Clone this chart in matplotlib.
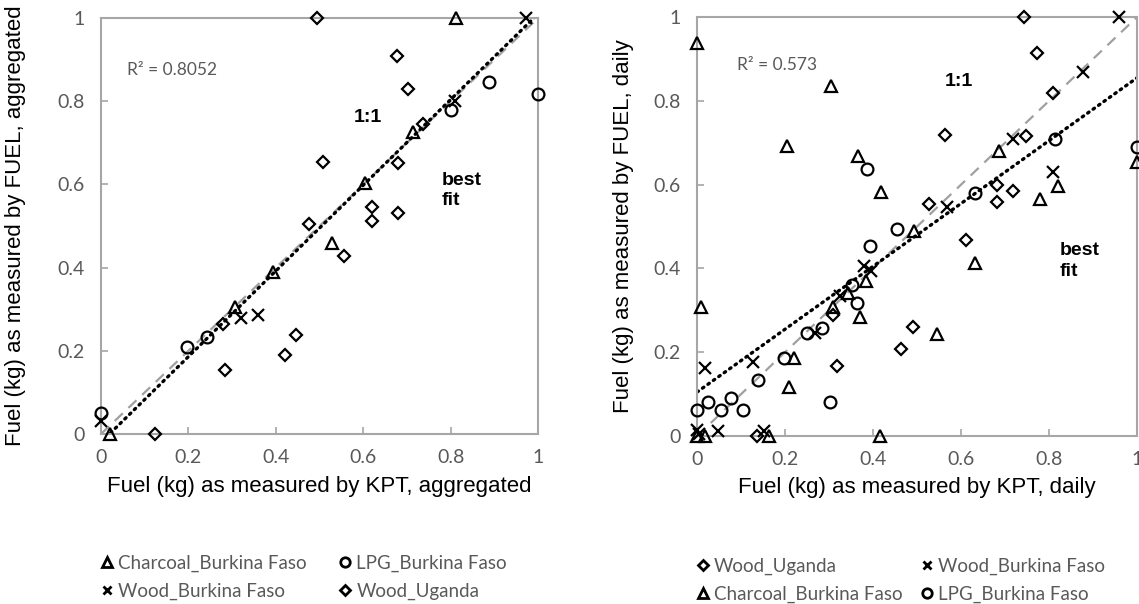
import numpy as np
import matplotlib
matplotlib.use("Agg")
import matplotlib.pyplot as plt
from matplotlib.ticker import FuncFormatter
from matplotlib.lines import Line2D

# aggregated values (left panel)
agg_charcoal_x = [0.02, 0.307, 0.394, 0.528, 0.604, 0.714, 0.812]
agg_charcoal_y = [0.0, 0.305, 0.39, 0.46, 0.604, 0.726, 1.0]
agg_lpg_x = [0.0, 0.197, 0.243, 0.80, 0.888, 1.0]
agg_lpg_y = [0.05, 0.21, 0.233, 0.779, 0.846, 0.817]
agg_woodbf_x = [0.0, 0.32, 0.36, 0.81, 0.973]
agg_woodbf_y = [0.03, 0.28, 0.286, 0.80, 1.0]
agg_woodug_x = [0.124, 0.28, 0.284, 0.421, 0.446, 0.476, 0.495, 0.508, 0.556,
                0.62, 0.62, 0.677, 0.68, 0.68, 0.703, 0.737]
agg_woodug_y = [0.0, 0.265, 0.154, 0.19, 0.238, 0.505, 1.0, 0.654, 0.428,
                0.545, 0.512, 0.909, 0.652, 0.532, 0.83, 0.745]
agg_fit = (1.03, -0.02)  # slope, intercept
agg_r2 = "R² = 0.8052"

# daily values (right panel)
day_charcoal_x = [0.0, 0.305, 0.204, 0.366, 0.418, 0.686, 1.0, 0.821, 0.78, 0.493,
                  0.632, 0.545, 0.384, 0.343, 0.37, 0.31, 0.22, 0.209, 0.01,
                  0.0, 0.018, 0.164, 0.416]
day_charcoal_y = [0.938, 0.835, 0.693, 0.668, 0.583, 0.68, 0.655, 0.597, 0.565, 0.49,
                  0.413, 0.243, 0.37, 0.341, 0.284, 0.308, 0.186, 0.117, 0.308,
                  0.0, 0.0, 0.0, 0.0]
day_lpg_x = [0.386, 0.814, 1.0, 0.632, 0.455, 0.393, 0.352, 0.363, 0.284, 0.25,
             0.198, 0.139, 0.077, 0.025, 0.302, 0.055, 0.105, 0.0]
day_lpg_y = [0.637, 0.71, 0.69, 0.58, 0.494, 0.453, 0.36, 0.318, 0.258, 0.246,
             0.186, 0.134, 0.09, 0.081, 0.081, 0.062, 0.062, 0.062]
day_woodbf_x = [0.96, 0.877, 0.719, 0.809, 0.568, 0.38, 0.395, 0.325, 0.268,
                0.127, 0.018, 0.0, 0.048, 0.152, 0.005]
day_woodbf_y = [1.0, 0.869, 0.708, 0.63, 0.547, 0.405, 0.395, 0.334, 0.246,
                0.176, 0.162, 0.014, 0.012, 0.012, 0.005]
day_woodug_x = [0.743, 0.773, 0.81, 0.564, 0.748, 0.681, 0.718, 0.681, 0.527,
                0.611, 0.49, 0.464, 0.309, 0.318, 0.136]
day_woodug_y = [1.0, 0.913, 0.818, 0.718, 0.716, 0.599, 0.585, 0.559, 0.554,
                0.468, 0.26, 0.207, 0.29, 0.168, 0.0]
day_fit = (0.75, 0.105)
day_r2 = "R² = 0.573"

gray_txt = '#595959'
spine_col = '#a6a6a6'
tick_font = 'Lato'
label_font = 'Liberation Sans'

styles = {
    'Charcoal_Burkina Faso': dict(marker='^', ms=9),
    'LPG_Burkina Faso': dict(marker='o', ms=8.5),
    'Wood_Burkina Faso': dict(marker='x', ms=8),
    'Wood_Uganda': dict(marker='D', ms=6.5),
}

fig = plt.figure(figsize=(11.39, 6.04), dpi=100)
ax1 = fig.add_axes([0.0887, 0.2815, 0.3837, 0.6887])
ax2 = fig.add_axes([0.612, 0.2781, 0.3863, 0.6937])


def draw_panel(ax, series, fit, r2, xlab, ylab, xlab_y, ylab_x,
               r2_pos, one_pos, best_pos, order, leg_x, colspace):
    xs = np.array([0, 1.0])
    ax.plot(xs, xs, color='#a0a0a0', lw=1.6, ls=(0, (5, 3.5)), zorder=1)
    ax.plot(xs, fit[0] * xs + fit[1], color='black', lw=2.4, ls=(0, (0.5, 1.5)),
            zorder=1, dash_capstyle='round')
    for name, (x, y) in series.items():
        st = styles[name]
        ax.plot(x, y, ls='none', marker=st['marker'], ms=st['ms'],
                mfc='none', mec='black', mew=1.6, clip_on=False, zorder=3)
    ax.set_xlim(0, 1)
    ax.set_ylim(0, 1)
    ax.set_xticks(np.arange(0, 1.01, 0.2))
    ax.set_yticks(np.arange(0, 1.01, 0.2))
    fmt = FuncFormatter(lambda v, p: '%g' % round(v, 1))
    ax.xaxis.set_major_formatter(fmt)
    ax.yaxis.set_major_formatter(fmt)
    ax.tick_params(direction='in', length=5, width=1.2, color=spine_col,
                   labelsize=14, labelcolor=gray_txt)
    ax.tick_params(axis='x', pad=11)
    ax.tick_params(axis='y', pad=12)
    for lab in ax.get_xticklabels() + ax.get_yticklabels():
        lab.set_fontfamily(tick_font)
    for sp in ax.spines.values():
        sp.set_color(spine_col)
        sp.set_linewidth(1.5)
    ax.set_xlabel(xlab, fontsize=16, family=label_font)
    ax.set_ylabel(ylab, fontsize=16, family=label_font)
    ax.xaxis.set_label_coords(0.5, xlab_y)
    ax.yaxis.set_label_coords(ylab_x, 0.5)
    ax.text(r2_pos[0], r2_pos[1], r2, fontsize=12.5, color=gray_txt,
            family=tick_font, va='center')
    ax.text(one_pos[0], one_pos[1], '1:1', fontsize=14, weight='bold',
            family=label_font, ha='center', va='center')
    ax.text(best_pos[0], best_pos[1], 'best\nfit', fontsize=14, weight='bold',
            family=label_font, ha='left', va='center', linespacing=1.25)
    leg_handles = []
    for name in order:
        st = styles[name]
        leg_handles.append(Line2D([], [], ls='none', marker=st['marker'],
                                  ms=st['ms'] * 0.8, mfc='none', mec='black', mew=2))
    leg = ax.legend(leg_handles, order, ncol=2, frameon=False,
                    loc='upper left', bbox_to_anchor=(leg_x, -0.29),
                    prop={'family': tick_font, 'size': 13.5},
                    handlelength=0.6, handletextpad=0.3, columnspacing=colspace,
                    labelspacing=0.58, borderaxespad=0, borderpad=0)
    for t in leg.get_texts():
        t.set_color(gray_txt)


draw_panel(ax1,
           {'Charcoal_Burkina Faso': (agg_charcoal_x, agg_charcoal_y),
            'LPG_Burkina Faso': (agg_lpg_x, agg_lpg_y),
            'Wood_Burkina Faso': (agg_woodbf_x, agg_woodbf_y),
            'Wood_Uganda': (agg_woodug_x, agg_woodug_y)},
           agg_fit, agg_r2,
           'Fuel (kg) as measured by KPT, aggregated',
           'Fuel (kg) as measured by FUEL, aggregated',
           -0.1, -0.172,
           (0.059, 0.875), (0.611, 0.76), (0.78, 0.586),
           ['Charcoal_Burkina Faso', 'Wood_Burkina Faso', 'LPG_Burkina Faso', 'Wood_Uganda'],
           0.0, 1.75)

draw_panel(ax2,
           {'Charcoal_Burkina Faso': (day_charcoal_x, day_charcoal_y),
            'LPG_Burkina Faso': (day_lpg_x, day_lpg_y),
            'Wood_Burkina Faso': (day_woodbf_x, day_woodbf_y),
            'Wood_Uganda': (day_woodug_x, day_woodug_y)},
           day_fit, day_r2,
           'Fuel (kg) as measured by KPT, daily',
           'Fuel (kg) as measured by FUEL, daily',
           -0.097, -0.143,
           (0.09, 0.885), (0.594, 0.845), (0.825, 0.418),
           ['Wood_Uganda', 'Charcoal_Burkina Faso', 'Wood_Burkina Faso', 'LPG_Burkina Faso'],
           0.0, 1.0)

fig.savefig('out.png', dpi=100)
